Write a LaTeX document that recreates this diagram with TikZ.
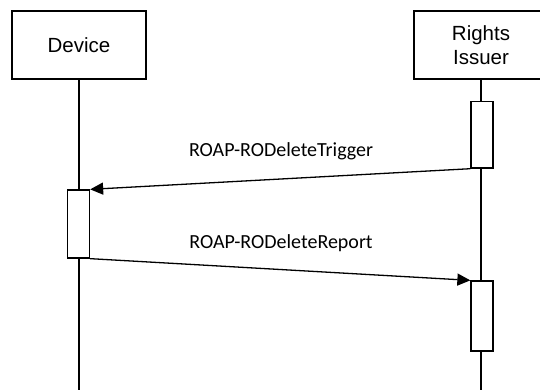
\documentclass[tikz,border=0pt]{standalone}
\usepackage{fontspec}
\setmainfont{Carlito}
\newfontfamily\boxfont{Liberation Sans}
\usetikzlibrary{arrows.meta}
\begin{document}
\begin{tikzpicture}[x=1pt,y=-1pt, line width=1.3pt,
 actor/.style={draw, fill=white, minimum width=134pt, minimum height=68pt, inner sep=0pt, font=\boxfont\fontsize{20.5}{24}\selectfont, align=center},
 actbox/.style={draw, fill=white, minimum width=22pt, inner sep=0pt},
 msg/.style={-{Triangle[length=13pt,width=12pt]}},
 lbl/.style={font=\fontsize{20}{24}\selectfont, inner sep=0pt}]
\useasboundingbox (0,0) rectangle (540,389);
\clip (0,0) rectangle (540,389);
\node[actor] (dev) at (79,45) {Device};
\node[actor] (ri) at (481,45) {Rights\\Issuer};
\coordinate (dbot) at (79,392);
\coordinate (rbot) at (481,392);
\draw (dev.south) -- (dbot);
\draw (ri.south) -- (rbot);
\node[actbox, minimum height=66.5pt] (ra1) at (482,134.8) {};
\node[actbox, minimum height=68pt] (da) at (78.5,224) {};
\node[actbox, minimum height=70pt] (ra2) at (482,316) {};
\draw[msg] (ra1.south west) -- (da.north east);
\draw[msg] (da.south east) -- (ra2.north west);
\node[lbl] (l1) at (281,151) {ROAP-RODeleteTrigger};
\node[lbl] (l2) at (281,243) {ROAP-RODeleteReport};
\end{tikzpicture}
\end{document}
